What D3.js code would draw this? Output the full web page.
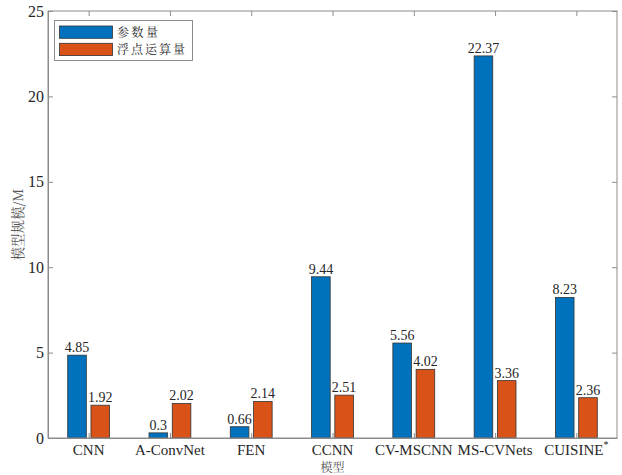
<!DOCTYPE html>
<html><head><meta charset="utf-8">
<script src="https://cdn.jsdelivr.net/npm/d3@7"></script>
<style>body{margin:0;background:#fff}</style>
</head><body>
<script>
const categories = ["CNN","A-ConvNet","FEN","CCNN","CV-MSCNN","MS-CVNets","CUISINE"];
const params = [4.85, 0.3, 0.66, 9.44, 5.56, 22.37, 8.23];
const flops = [1.92, 2.02, 2.14, 2.51, 4.02, 3.36, 2.36];
const seriesNames = ["参数量","浮点运算量"];
const colors = ["#0072BD","#D95319"];
const yTicks = [0,5,10,15,20,25];

const W = 622, H = 475;
const m = {l:48, r:5, t:11, b:37};
const svg = d3.select("body").append("svg").attr("width",W).attr("height",H);
const x = d3.scaleLinear().domain([0.5, categories.length+0.5]).range([m.l, W-m.r]);
const y = d3.scaleLinear().domain([0,25]).range([H-m.b, m.t]);
const axisColor = "#8c8c8c", textColor = "#262626";
const serifCss = "font-family:'Liberation Serif'";
const cjkCss = "font-family:'Noto Serif CJK SC'";

const series = [params, flops];
const offsets = [-0.143, 0.143], bw = 0.229;

series.forEach((vals,si)=>{
  const g = svg.append("g");
  g.selectAll("rect").data(vals).join("rect")
    .attr("x",(d,i)=>x(i+1+offsets[si]-bw/2))
    .attr("width",x(bw)-x(0))
    .attr("y",d=>y(d))
    .attr("height",d=>y(0)-y(d))
    .attr("fill",colors[si]).attr("stroke","#333").attr("stroke-width",0.8);
  g.selectAll("text").data(vals).join("text")
    .attr("x",(d,i)=>x(i+1+offsets[si]))
    .attr("y",d=>y(d)-3)
    .attr("text-anchor","middle")
    .attr("style",serifCss).attr("font-size",14).attr("fill",textColor)
    .text(d=>d);
});

// frame
svg.append("rect").attr("x",m.l).attr("y",m.t).attr("width",W-m.r-m.l).attr("height",H-m.b-m.t)
  .attr("fill","none").attr("stroke",axisColor).attr("stroke-width",1);

// axes
const xa = svg.append("g").attr("transform",`translate(0,${H-m.b})`)
  .call(d3.axisBottom(x).tickValues(d3.range(1,categories.length+1)).tickSizeInner(-5).tickSizeOuter(0).tickFormat(""));
xa.select(".domain").attr("stroke",axisColor);
xa.selectAll("line").attr("stroke",axisColor);
const xt = svg.append("g").attr("transform",`translate(0,${m.t})`)
  .call(d3.axisTop(x).tickValues(d3.range(1,categories.length+1)).tickSizeInner(-5).tickSizeOuter(0).tickFormat(""));
xt.select(".domain").remove();
xt.selectAll("line").attr("stroke",axisColor);

const ya = svg.append("g").attr("transform",`translate(${m.l},0)`)
  .call(d3.axisLeft(y).tickValues(yTicks).tickSizeInner(-5).tickSizeOuter(0).tickPadding(4));
ya.select(".domain").attr("stroke",axisColor);
ya.selectAll("line").attr("stroke",axisColor);
ya.selectAll("text").attr("style",serifCss).attr("font-size",16).attr("fill",textColor);
const yr = svg.append("g").attr("transform",`translate(${W-m.r},0)`)
  .call(d3.axisRight(y).tickValues(yTicks).tickSizeInner(-5).tickSizeOuter(0).tickFormat(""));
yr.select(".domain").remove();
yr.selectAll("line").attr("stroke",axisColor);

// x category labels
const xl = svg.append("g");
categories.forEach((c,i)=>{
  const t = xl.append("text").attr("x",x(i+1)).attr("y",H-m.b+17)
    .attr("text-anchor","middle").attr("style",serifCss).attr("font-size",15).attr("fill",textColor);
  t.append("tspan").text(c);
  if(c==="CUISINE") t.append("tspan").attr("dy",-7).attr("font-size",10).text("*");
});

// axis titles
svg.append("text").attr("x",x(4)).attr("y",H-3.5).attr("text-anchor","middle")
  .attr("style",cjkCss).attr("font-size",12).attr("fill","#555").text("模型");
svg.append("text").attr("transform",`translate(23,${(m.t+H-m.b)/2}) rotate(-90)`)
  .attr("text-anchor","middle").attr("style",cjkCss).attr("font-size",13.5).attr("fill","#555").text("模型规模/M");

// legend
const lg = svg.append("g");
lg.append("rect").attr("x",54.5).attr("y",20.5).attr("width",138).attr("height",40)
  .attr("fill","#fff").attr("stroke",axisColor);
seriesNames.forEach((n,i)=>{
  lg.append("rect").attr("x",59.5).attr("y",26+i*17.3).attr("width",53).attr("height",12.3)
    .attr("fill",colors[i]).attr("stroke","#333").attr("stroke-width",0.8);
  lg.append("text").attr("x",117).attr("y",36.5+i*17.3).attr("style",cjkCss).attr("font-size",12)
    .attr("textLength", i===0 ? 41 : 68).attr("lengthAdjust","spacing")
    .attr("fill",textColor).text(n);
});
</script>
</body></html>
